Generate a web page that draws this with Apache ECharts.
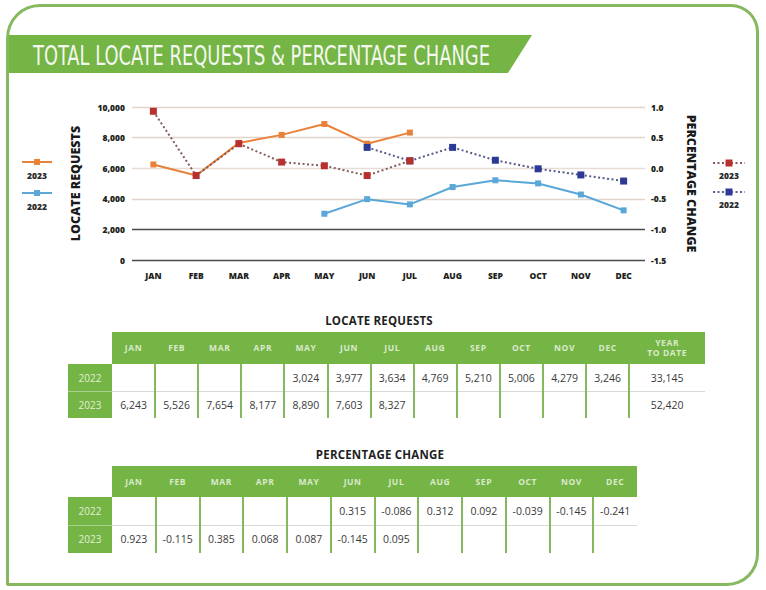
<!DOCTYPE html>
<html>
<head>
<meta charset="utf-8">
<script src="https://cdn.jsdelivr.net/npm/echarts@6/dist/echarts.min.js"></script>
<style>
  html,body{margin:0;padding:0;background:#fff;}
  #page{position:relative;width:766px;height:590px;background:#fff;overflow:hidden;font-family:"Open Sans","Lato",sans-serif;}
  #frame{position:absolute;left:6px;top:4px;width:753px;height:582px;box-sizing:border-box;border:3px solid #86b95f;border-radius:34px 28px 32px 2px;}
  #chart{position:absolute;left:0;top:0;width:766px;height:590px;}
  .cell{position:absolute;box-sizing:border-box;display:flex;align-items:center;justify-content:center;text-align:center;}
  .hd{background:#74b545;color:#dbe9cc;font-weight:700;font-size:8.5px;letter-spacing:0.6px;line-height:10px;}
  .rl{background:#74b545;color:#e3eed6;font-size:10px;}
  .dt{color:#3a3a3a;font-size:10.5px;}
  .vl{position:absolute;width:2px;background:#86b95f;}
  .hl{position:absolute;height:1px;background:#d9d9d9;}
  .ttl{position:absolute;font-weight:700;font-size:11.5px;color:#1f1f1f;transform:translate(-50%,-50%);white-space:nowrap;letter-spacing:0.2px;}
</style>
</head>
<body>
<div id="page">
  <div id="frame"></div>
  <svg style="position:absolute;left:0;top:0" width="766" height="100">
    <polygon points="9,35 532,35 508,73 9,73" fill="#74b545"/>
    <text x="33" y="64.5" fill="#f4f7ef" font-family="'DejaVu Sans Condensed', 'DejaVu Sans', sans-serif" font-stretch="condensed" font-size="27" textLength="457" lengthAdjust="spacingAndGlyphs">TOTAL LOCATE REQUESTS &amp; PERCENTAGE CHANGE</text>
  </svg>
  <div id="chart"></div>
  <div id="tables"></div>
</div>
<script>
// ---- data ----
var months = ['JAN','FEB','MAR','APR','MAY','JUN','JUL','AUG','SEP','OCT','NOV','DEC'];
var requests2023 = [6243, 5526, 7654, 8177, 8890, 7603, 8327, null, null, null, null, null];
var requests2022 = [null, null, null, null, 3024, 3977, 3634, 4769, 5210, 5006, 4279, 3246];
var ytdRequests = {y2022: 33145, y2023: 52420};
// percentage change as plotted on the chart
var pctPlot2023 = [0.93, -0.12, 0.40, 0.10, 0.04, -0.12, 0.12, null, null, null, null, null];
var pctPlot2022 = [null, null, null, null, null, 0.34, 0.12, 0.34, 0.13, -0.01, -0.11, -0.21];
// percentage change as printed in the table
var pctTable2022 = [null, null, null, null, null, 0.315, -0.086, 0.312, 0.092, -0.039, -0.145, -0.241];
var pctTable2023 = [0.923, -0.115, 0.385, 0.068, 0.087, -0.145, 0.095, null, null, null, null, null];
var leftTicks = {min: 0, max: 10000, interval: 2000};
var rightTicks = {min: -1.5, max: 1.0, interval: 0.5};

var C_ORANGE = '#e8823a', C_LBLUE = '#5aa7d8', C_RED = '#b8302e', C_DBLUE = '#2c3a96';
var C_RED_LINE = '#855a5a', C_BLUE_LINE = '#565c86';
var labelFont = {fontFamily: 'Open Sans', fontWeight: 800, fontSize: 8.5, color: '#231f20'};

var chart = echarts.init(document.getElementById('chart'), null, {renderer: 'svg'});
chart.setOption({
  animation: false,
  grid: {left: 132, top: 107, width: 513, height: 153},
  xAxis: {
    type: 'category', data: months, boundaryGap: true,
    axisLine: {show: false}, axisTick: {show: false},
    axisLabel: Object.assign({margin: 11}, labelFont)
  },
  yAxis: [{
    type: 'value', min: leftTicks.min, max: leftTicks.max, interval: leftTicks.interval,
    name: 'LOCATE REQUESTS', nameLocation: 'middle', nameGap: 50, nameRotate: 90,
    nameTextStyle: {fontFamily: 'Open Sans', fontWeight: 800, fontSize: 12.5, color: '#1a1a1a'},
    axisLine: {show: false}, axisTick: {show: false},
    axisLabel: Object.assign({margin: 7, formatter: function (v) { return v.toLocaleString('en-US'); }}, labelFont),
    splitLine: {show: true, lineStyle: {width: 1.3, color: ['#4a4a4a', '#4a4a4a', '#e2d3cc', '#e8dcd6', '#e2d3cc', '#e2d3cc']}}
  }, {
    type: 'value', min: rightTicks.min, max: rightTicks.max, interval: rightTicks.interval,
    name: 'PERCENTAGE CHANGE', nameLocation: 'middle', nameGap: 40, nameRotate: -90,
    nameTextStyle: {fontFamily: 'Open Sans', fontWeight: 800, fontSize: 12.5, color: '#1a1a1a'},
    axisLine: {show: false}, axisTick: {show: false},
    axisLabel: Object.assign({margin: 6, formatter: function (v) { return v.toFixed(1); }}, labelFont),
    splitLine: {show: false}
  }],
  series: [{
    name: '2022 requests', type: 'line', yAxisIndex: 0, data: requests2022,
    symbol: 'rect', symbolSize: 6, lineStyle: {color: C_LBLUE, width: 2}, itemStyle: {color: C_LBLUE}
  }, {
    name: '2023 requests', type: 'line', yAxisIndex: 0, data: requests2023,
    symbol: 'rect', symbolSize: 6, lineStyle: {color: C_ORANGE, width: 2}, itemStyle: {color: C_ORANGE}
  }, {
    name: '2022 pct', type: 'line', yAxisIndex: 1, data: pctPlot2022,
    symbol: 'rect', symbolSize: 7, lineStyle: {color: C_BLUE_LINE, width: 2, type: [2, 2.5]}, itemStyle: {color: C_DBLUE}
  }, {
    name: '2023 pct', type: 'line', yAxisIndex: 1, data: pctPlot2023,
    symbol: 'rect', symbolSize: 7, lineStyle: {color: C_RED_LINE, width: 2, type: [2, 2.5]}, itemStyle: {color: C_RED}
  }],
  graphic: [
    {type: 'line', shape: {x1: 22, y1: 162, x2: 52, y2: 162}, style: {stroke: C_ORANGE, lineWidth: 2}},
    {type: 'rect', shape: {x: 34, y: 159, width: 6, height: 6}, style: {fill: C_ORANGE}},
    {type: 'text', x: 37, y: 175, style: {text: '2023', fill: '#2a2a2a', font: '800 8.5px "Open Sans"', textAlign: 'center', textVerticalAlign: 'middle'}},
    {type: 'line', shape: {x1: 22, y1: 193, x2: 52, y2: 193}, style: {stroke: C_LBLUE, lineWidth: 2}},
    {type: 'rect', shape: {x: 34, y: 190, width: 6, height: 6}, style: {fill: C_LBLUE}},
    {type: 'text', x: 37, y: 206, style: {text: '2022', fill: '#2a2a2a', font: '800 8.5px "Open Sans"', textAlign: 'center', textVerticalAlign: 'middle'}},
    {type: 'line', shape: {x1: 713, y1: 163, x2: 745, y2: 163}, style: {stroke: C_RED_LINE, lineWidth: 2, lineDash: [2, 2.5]}},
    {type: 'rect', shape: {x: 725.5, y: 159.5, width: 7, height: 7}, style: {fill: C_RED}},
    {type: 'text', x: 729, y: 175, style: {text: '2023', fill: '#2a2a2a', font: '800 8.5px "Open Sans"', textAlign: 'center', textVerticalAlign: 'middle'}},
    {type: 'line', shape: {x1: 713, y1: 192, x2: 745, y2: 192}, style: {stroke: C_BLUE_LINE, lineWidth: 2, lineDash: [2, 2.5]}},
    {type: 'rect', shape: {x: 725.5, y: 188.5, width: 7, height: 7}, style: {fill: C_DBLUE}},
    {type: 'text', x: 729, y: 204, style: {text: '2022', fill: '#2a2a2a', font: '800 8.5px "Open Sans"', textAlign: 'center', textVerticalAlign: 'middle'}}
  ]
});

// ---- tables ----
var host = document.getElementById('tables');
function el(cls, x, y, w, h, html) {
  var d = document.createElement('div');
  d.className = cls;
  d.style.left = x + 'px'; d.style.top = y + 'px';
  if (w != null) d.style.width = w + 'px';
  if (h != null) d.style.height = h + 'px';
  if (html != null) d.innerHTML = html;
  host.appendChild(d);
  return d;
}
function fmtInt(v) { return v == null ? '' : v.toLocaleString('en-US'); }
function fmtPct(v) { return v == null ? '' : v.toFixed(3); }

function buildTable(cfg) {
  var x0 = cfg.x0, lw = cfg.labelW, cw = cfg.colW;
  var dx0 = x0 + lw;
  var ncol = months.length + (cfg.extra ? 1 : 0);
  var totalW = months.length * cw + (cfg.extra ? cfg.extraW : 0);
  var t = document.createElement('div');
  t.className = 'ttl'; t.style.left = cfg.titleX + 'px'; t.style.top = cfg.titleY + 'px';
  t.textContent = cfg.title; host.appendChild(t);
  el('cell hd', dx0, cfg.y0, totalW, cfg.hh, '');
  months.forEach(function (m, i) { el('cell hd', dx0 + i * cw, cfg.y0, cw, cfg.hh, m); });
  if (cfg.extra) el('cell hd', dx0 + months.length * cw, cfg.y0, cfg.extraW, cfg.hh, cfg.extra);
  var ry = cfg.y0 + cfg.hh;
  cfg.rows.forEach(function (row, r) {
    var y = ry + r * cfg.rh;
    el('cell rl', x0, y, lw, cfg.rh, row.label);
    row.values.forEach(function (v, i) { el('cell dt', dx0 + i * cw, y, cw, cfg.rh, row.fmt(v)); });
    if (cfg.extra) el('cell dt', dx0 + months.length * cw, y, cfg.extraW, cfg.rh, row.fmt(row.extraVal));
  });
  var bottom = ry + cfg.rows.length * cfg.rh;
  el('hl', dx0, ry + cfg.rh - 0.5, totalW, null, null);
  var sep2 = el('hl', x0, ry + cfg.rh - 0.5, lw, null, null); sep2.style.background = '#a9d08a';
  for (var i = 1; i < ncol; i++) {
    el('vl', dx0 + i * cw - 1, ry, null, bottom - ry, null);
  }
}

buildTable({
  title: 'LOCATE REQUESTS', titleX: 379, titleY: 320,
  x0: 68, labelW: 44, colW: 43.1, y0: 332, hh: 32, rh: 27,
  extra: 'YEAR<br>TO DATE', extraW: 76,
  rows: [
    {label: '2022', values: requests2022, fmt: fmtInt, extraVal: ytdRequests.y2022},
    {label: '2023', values: requests2023, fmt: fmtInt, extraVal: ytdRequests.y2023}
  ]
});
buildTable({
  title: 'PERCENTAGE CHANGE', titleX: 380, titleY: 454,
  x0: 68, labelW: 44, colW: 43.75, y0: 466, hh: 31, rh: 28,
  rows: [
    {label: '2022', values: pctTable2022, fmt: fmtPct},
    {label: '2023', values: pctTable2023, fmt: fmtPct}
  ]
});
</script>
</body>
</html>
